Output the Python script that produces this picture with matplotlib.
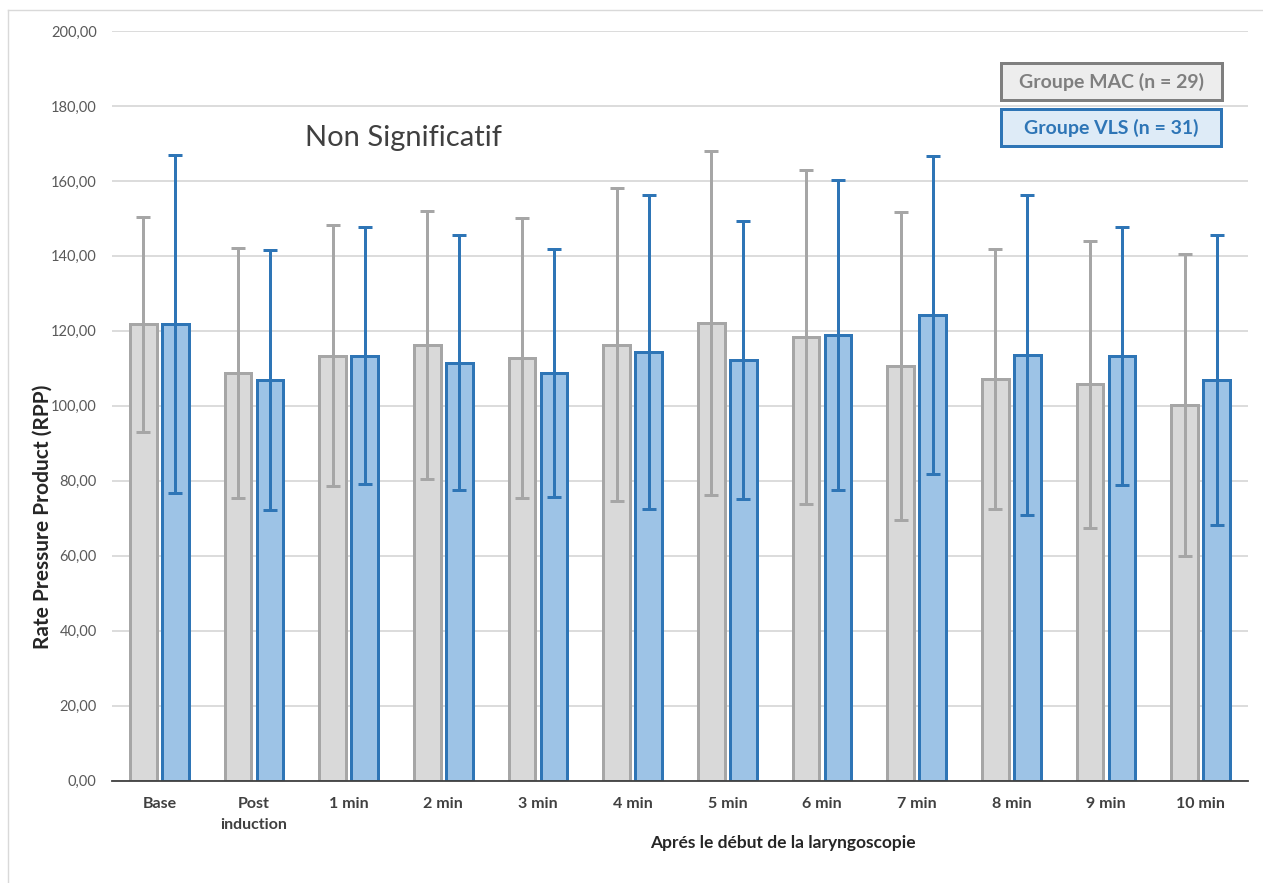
import matplotlib
matplotlib.use("Agg")
import matplotlib.pyplot as plt
import numpy as np
from matplotlib.patches import Rectangle
from matplotlib.lines import Line2D

categories = ["Base", "Post\ninduction", "1 min", "2 min", "3 min", "4 min",
              "5 min", "6 min", "7 min", "8 min", "9 min", "10 min"]
mac_mean = [121.8, 108.8, 113.4, 116.2, 112.8, 116.3, 122.2, 118.4, 110.6, 107.1, 105.7, 100.2]
mac_sd = [28.7, 33.4, 34.8, 35.8, 37.4, 41.7, 45.9, 44.5, 41.0, 34.6, 38.2, 40.2]
vls_mean = [121.8, 106.8, 113.4, 111.5, 108.7, 114.3, 112.2, 118.8, 124.3, 113.6, 113.3, 106.8]
vls_sd = [45.0, 34.7, 34.2, 34.0, 33.1, 41.9, 37.0, 41.4, 42.4, 42.7, 34.5, 38.7]
yticks = [0, 20, 40, 60, 80, 100, 120, 140, 160, 180, 200]
legend_labels = ["Groupe MAC (n = 29)", "Groupe VLS (n = 31)"]

W, H = 1263, 883
fig = plt.figure(figsize=(W / 100, H / 100), dpi=100)
ax = fig.add_axes([112 / W, (H - 780.5) / H, (1248 - 112) / W, (780.5 - 31) / H])

x = np.arange(len(categories))
bw = 0.285
off = 0.169
lw_px = 3 * 72 / 100

gray_fill, gray_edge = "#D9D9D9", "#A6A6A6"
blue_fill, blue_edge = "#9DC3E6", "#2E75B6"

ax.bar(x - off, mac_mean, width=bw, color=gray_fill, edgecolor=gray_edge,
       linewidth=lw_px, zorder=2)
ax.bar(x + off, vls_mean, width=bw, color=blue_fill, edgecolor=blue_edge,
       linewidth=lw_px, zorder=2)
ax.errorbar(x - off, mac_mean, yerr=mac_sd, fmt="none", ecolor=gray_edge,
            elinewidth=lw_px, capsize=4.7, capthick=lw_px, zorder=3)
ax.errorbar(x + off, vls_mean, yerr=vls_sd, fmt="none", ecolor=blue_edge,
            elinewidth=lw_px, capsize=4.7, capthick=lw_px, zorder=3)

ax.set_xlim(-0.5, len(categories) - 0.5)
ax.set_ylim(0, 200)
ax.set_yticks(yticks)
ax.set_yticklabels([f"{v:.2f}".replace(".", ",") for v in yticks],
                   fontname="Lato", fontsize=10.5, color="#595959")
ax.set_xticks(x)
ax.set_xticklabels(categories, fontname="Lato", fontweight="bold",
                   fontsize=11.5, color="#404040", linespacing=1.6, va="top")
ax.tick_params(axis="both", length=0)
ax.tick_params(axis="y", pad=11)
ax.tick_params(axis="x", pad=12)
ax.yaxis.grid(True, color="#D9D9D9", linewidth=1.3, zorder=0)
ax.set_axisbelow(True)
for s in ["left", "right", "top"]:
    ax.spines[s].set_visible(False)
ax.spines["bottom"].set_color("#404040")
ax.spines["bottom"].set_linewidth(1.3)
ax.spines["bottom"].set_zorder(4)

# axis titles
fig.text(43 / W, 1 - 517 / H, "Rate Pressure Product (RPP)", rotation=90,
         ha="center", va="center", fontname="Lato", fontweight="bold",
         fontsize=15, color="#262626")
fig.text(783 / W, 1 - 843 / H, "Aprés le début de la laryngoscopie",
         ha="center", va="center", fontname="Lato", fontweight="bold",
         fontsize=12.5, color="#262626")

# annotation
fig.text(403 / W, 1 - 138 / H, "Non Significatif", ha="center", va="center",
         fontname="Lato", fontsize=21, color="#404040")

# legend boxes
boxes = [
    (1001, 63, 1222, 100, "#EDEDED", "#7F7F7F", "#7F7F7F"),
    (1001, 109, 1221, 146, "#DEEBF7", "#2E75B6", "#2E75B6"),
]
for (x0, y0, x1, y1, fc, ec, tc), lab in zip(boxes, legend_labels):
    r = Rectangle((x0 / W, 1 - y1 / H), (x1 - x0) / W, (y1 - y0) / H,
                  transform=fig.transFigure, facecolor=fc, edgecolor=ec,
                  linewidth=lw_px, zorder=5)
    fig.add_artist(r)
    fig.text((x0 + x1) / 2 / W, 1 - (y0 + y1) / 2 / H, lab, ha="center",
             va="center", fontname="Lato", fontweight="bold", fontsize=14,
             color=tc, zorder=6)

# chart area border (left and top)
fig.add_artist(Line2D([8 / W, 8 / W], [0, 1 - 10 / H], transform=fig.transFigure,
                      color="#D9D9D9", linewidth=1))
fig.add_artist(Line2D([8 / W, 1], [1 - 10 / H, 1 - 10 / H], transform=fig.transFigure,
                      color="#D9D9D9", linewidth=1))

fig.savefig("out.png", dpi=100, facecolor="white")
